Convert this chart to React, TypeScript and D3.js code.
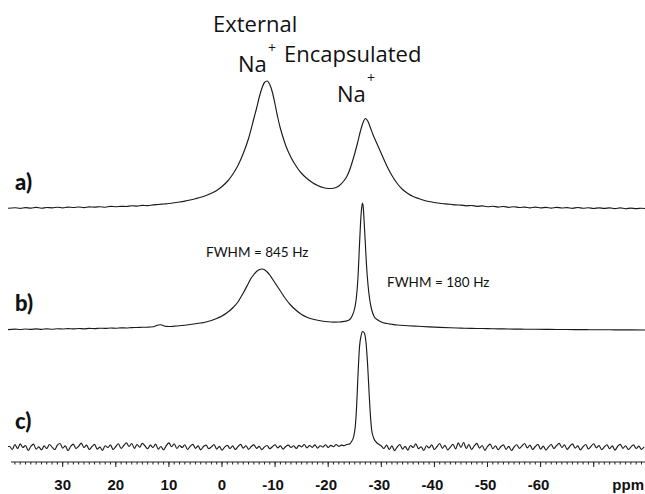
import React from "react";
import * as d3 from "d3";

type P = [number, number];

// Trace a) [ppm, intensity]
const specA: P[] = [
  [40.3,0.2],[39,0.8],[38,0.1],[37,0.9],[36,0.4],[35,1.1],[34,0.3],[33,1.0],[32,0.7],[31,1.3],[30,0.6],[29,1.4],[28,1.0],[27,1.5],[26,0.9],[25,1.7],[24,1.4],[23,1.8],[22,1.3],[21,2.1],[20,1.8],[19,2.2],[18,2.0],[17,2.8],[16,2.4],[15,3.1],[14,2.9],[13,3.6],[12,4.0],[11,4.5],[10,5.0],[9,5.7],[8,6.5],[7,7.4],[6,8.5],[5,9.8],[4,11.2],[3,13],[2,15.2],[1,18],[0,22],[-1,27],[-2,34],[-3,43],[-4,55],[-5,70],[-6,90],[-6.5,100],[-7,111],[-7.5,120],[-8,126],[-8.5,127.5],[-9,124],[-9.5,116],[-10,104],[-10.5,91],[-11,80],[-11.5,71],[-12,63],[-13,51],[-14,42],[-15,35],[-16,30],[-17,26],[-18,23],[-19,21],[-20,20],[-21,20.3],[-22,22.5],[-23,28],[-23.5,32],[-24,38],[-24.5,46],[-25,55],[-25.5,65],[-26,76],[-26.5,85],[-27,90],[-27.5,87],[-28,80],[-28.5,73],[-29,67],[-30,55],[-31,43],[-32,33],[-33,25],[-34,19],[-35,15],[-36,12],[-37,10],[-38,8.3],[-39,7],[-40,6],[-41,5.3],[-42,4.6],[-43,4.2],[-44,3.6],[-45,3.4],[-46,2.7],[-47,3.0],[-48,2.2],[-49,2.6],[-50,1.8],[-51,2.3],[-52,1.4],[-53,2.0],[-54,1.2],[-55,1.8],[-56,1.0],[-57,1.4],[-58,0.7],[-59,1.4],[-60,0.6],[-61,1.1],[-62,0.4],[-63,1.2],[-64,0.5],[-65,0.9],[-66,0.2],[-67,1.0],[-68,0.3],[-69,0.8],[-70,0.0],[-71,0.7],[-72,0.1],[-73,0.6],[-74,-0.1],[-75,0.6],[-76,-0.2],[-77,0.4],[-78,-0.1],[-79,0.3],[-79.7,0]
];

// Trace b) [ppm, intensity]
const specB: P[] = [
  [40.3,0.4],[39,0.9],[38,0.5],[37,1.0],[36,0.6],[35,1.1],[34,0.7],[33,1.2],[32,0.8],[31,1.3],[30,1.0],[29,1.4],[28,1.1],[27,1.5],[26,1.2],[25,1.6],[24,1.4],[23,1.8],[22,1.6],[21,2.0],[20,1.8],[19,2.2],[18,2.0],[17,2.4],[16,2.5],[15,2.7],[14,2.8],[13,3.2],[12.5,4],[12,5],[11.5,5.3],[11,4.2],[10.5,3.6],[10,3.5],[9,3.8],[8,4.2],[7,4.8],[6,5.5],[5,6.2],[4,7],[3,8],[2,9.5],[1,11.5],[0,14],[-1,17.5],[-2,22],[-3,28],[-4,37],[-5,47],[-5.5,52],[-6,55.5],[-6.5,58.5],[-7,60.3],[-7.5,61],[-8,60.3],[-8.5,58],[-9,55],[-9.5,51],[-10,47],[-11,39],[-12,31],[-13,24.5],[-14,19.5],[-15,15.5],[-16,12.8],[-17,11],[-18,9.8],[-19,8.8],[-20,8.2],[-21,7.9],[-22,8.0],[-23,8.6],[-23.5,9.1],[-24,10.2],[-24.5,14],[-25,22],[-25.3,32],[-25.6,52],[-25.9,86],[-26.1,108],[-26.3,122],[-26.45,127],[-26.6,123],[-26.8,105],[-27.0,86],[-27.2,66],[-27.5,45],[-27.8,31],[-28.2,20],[-28.7,13],[-29.2,10.5],[-30,8],[-31,6.5],[-32,5.7],[-33,5],[-35,4.3],[-37,3.7],[-39,3.1],[-41,2.6],[-43,2.2],[-45,1.9],[-47,1.6],[-49,1.5],[-51,1.2],[-53,1.1],[-55,0.9],[-57,0.8],[-59,0.7],[-61,0.6],[-63,0.5],[-65,0.5],[-67,0.4],[-69,0.3],[-71,0.3],[-73,0.2],[-75,0.2],[-77,0.1],[-79.7,0]
];

// Trace c) [ppm, intensity]
const specC: P[] = [
  [40.3,1],[40,1],[39.5,-2],[39,3],[38.5,-1],[38,3.6],[37.5,0],[37,2],[36.5,-3],[36,1],[35.5,3.4],[35,-1.6],[34.5,0.6],[34,-2.4],[33.5,1.6],[33,-1],[32.5,3],[32,0.4],[31.5,-2],[31,2.4],[30.5,4],[30,-0.6],[29.5,1.6],[29,-3],[28.5,1],[28,3.4],[27.5,-1],[27,1.2],[26.5,4.4],[26,0],[25.5,2.4],[25,-2],[24.5,0.8],[24,3.2],[23.5,-1.6],[23,0.4],[22.5,-2.8],[22,1.8],[21.5,0],[21,2.6],[20.5,-2],[20,1],[19.5,3.8],[19,-1],[18.5,2],[18,4.6],[17.5,1],[17,4],[16.5,-0.8],[16,3],[15.5,0.4],[15,4.2],[14.5,1.6],[14,-1.2],[13.5,2.4],[13,0],[12.5,3.4],[12,-1.6],[11.5,1],[11,-2.4],[10.5,1.8],[10,4.6],[9.5,0.8],[9,3.8],[8.5,-1],[8,2],[7.5,0],[7,2.8],[6.5,-2],[6,1.2],[5.5,3.2],[5,-0.8],[4.5,1.6],[4,-2.4],[3.5,1],[3,2.4],[2.5,-1.2],[2,0.6],[1.5,3],[1,-1.6],[0.5,1.2],[0,-2.6],[-0.5,0.4],[-1,2.2],[-1.5,-1],[-2,1.6],[-2.5,-2],[-3,0.8],[-3.5,3.2],[-4,-0.6],[-4.5,1.8],[-5,-1.8],[-5.5,1],[-6,2.6],[-6.5,-0.8],[-7,1.2],[-7.5,-2.2],[-8,0.6],[-8.5,2],[-9,-1.2],[-9.5,0.8],[-10,2.8],[-10.5,-0.4],[-11,1.6],[-11.5,-1.6],[-12,1],[-12.5,2.4],[-13,0],[-13.5,1.8],[-14,-1],[-14.5,2.2],[-15,0.6],[-15.5,3],[-16,-0.4],[-16.5,2],[-17,0.2],[-17.5,2.6],[-18,-0.6],[-18.5,1.8],[-19,0.4],[-19.5,2.8],[-20,0],[-20.5,2.2],[-21,0.8],[-21.5,3],[-22,1.2],[-22.5,2.4],[-23,1.8],[-23.5,3],[-24,3.4],
  [-24.4,6],[-24.8,11],[-25.1,21],[-25.35,41],[-25.6,71],[-25.9,101],[-26.2,112],[-26.5,116],[-26.8,114.5],[-27.1,106],[-27.4,85],[-27.7,55],[-27.95,32],[-28.2,17],[-28.6,9],[-29.1,5],[-29.6,3],[-30,1.5],
  [-30.5,-1],[-31,2.4],[-31.5,-2],[-32,1.6],[-32.5,-3.2],[-33,0.6],[-33.5,3],[-34,-1.6],[-34.5,1.2],[-35,-2.6],[-35.5,2],[-36,0],[-36.5,3.6],[-37,-1.2],[-37.5,0.8],[-38,-3],[-38.5,1.8],[-39,-0.4],[-39.5,2.6],[-40,-2],[-40.5,1],[-41,4],[-41.5,-0.8],[-42,2.2],[-42.5,-2.4],[-43,0.4],[-43.5,3.2],[-44,-1.4],[-44.5,4.6],[-45,0.2],[-45.5,5],[-46,-1],[-46.5,3],[-47,-2],[-47.5,1.6],[-48,4.2],[-48.5,-0.6],[-49,2],[-49.5,-2.8],[-50,1],[-50.5,3.4],[-51,-1.2],[-51.5,1.8],[-52,-2.2],[-52.5,0.8],[-53,2.6],[-53.5,-1.8],[-54,1.2],[-54.5,-3],[-55,0.4],[-55.5,2.8],[-56,-0.8],[-56.5,1.6],[-57,4],[-57.5,-0.4],[-58,2.4],[-58.5,-2],[-59,1],[-59.5,3.2],[-60,-1.6],[-60.5,1.4],[-61,-2.6],[-61.5,0.6],[-62,3],[-62.5,-1],[-63,1.8],[-63.5,4.2],[-64,0],[-64.5,2.6],[-65,-1.8],[-65.5,1.2],[-66,3.6],[-66.5,-0.6],[-67,1.6],[-67.5,-2.4],[-68,0.8],[-68.5,3],[-69,-1.4],[-69.5,1.2],[-70,3.8],[-70.5,-0.4],[-71,2],[-71.5,-2.2],[-72,0.6],[-72.5,2.8],[-73,-1.2],[-73.5,1.6],[-74,-2.6],[-74.5,1],[-75,3.2],[-75.5,-0.8],[-76,1.8],[-76.5,-2],[-77,0.4],[-77.5,2.6],[-78,-1],[-78.5,1.4],[-79,-1.8],[-79.5,0.8]
];

const traceLabels = ["a)", "b)", "c)"];
const majorTicks = [30, 20, 10, 0, -10, -20, -30, -40, -50, -60, -70];
const tickLabels = ["30", "20", "10", "0", "-10", "-20", "-30", "-40", "-50", "-60", ""];
const minorTicks = d3.range(39, -80, -1);
const unitLabel = "ppm";
const fwhmLabels = ["FWHM = 845 Hz", "FWHM = 180 Hz"];

const W = 645;
const H = 494;

export default function App() {
  const x = d3.scaleLinear().domain([40, -80]).range([9.6, 646.8]);
  const yI = d3.scaleLinear().domain([0, 100]).range([0, -100]);
  const baselines = [208.5, 330, 447.5];
  const series = [specA, specB, specC];
  const mk = (base: number) =>
    d3
      .line<P>()
      .x((d) => x(d[0]))
      .y((d) => base + yI(d[1]))
      .curve(d3.curveMonotoneX);

  const axisY = 462;
  const calib = "'Open Sans', Lato, sans-serif";
  const small = "Lato, 'Open Sans', sans-serif";
  const arial = "'Liberation Sans', Arial, sans-serif";

  return (
    <svg
      width={W}
      height={H}
      viewBox={`0 0 ${W} ${H}`}
      style={{ position: "absolute", left: 0, top: 0, background: "#fff", display: "block" }}
    >
      <rect x={0} y={0} width={W} height={H} fill="#fff" />
      <defs>
        <clipPath id="plotclip">
          <rect x={0} y={0} width={W} height={H} />
        </clipPath>
      </defs>
      <g clipPath="url(#plotclip)">
        {series.map((s, i) => (
          <path
            key={i}
            d={mk(baselines[i])(s) || ""}
            fill="none"
            stroke="#1a1a1a"
            strokeWidth={1.15}
            strokeLinejoin="round"
          />
        ))}
      </g>

      {/* trace labels */}
      {traceLabels.map((t, i) => (
        <text
          key={t}
          x={15}
          y={[190, 311, 429][i]}
          fontFamily={small}
          fontWeight={900}
          fontSize={22}
          fill="#111"
        >
          {t}
        </text>
      ))}

      {/* peak annotations */}
      <g fontFamily={calib} fill="#111">
        <text x={213} y={32} fontSize={22}>External</text>
        <text x={238} y={72} fontSize={22}>Na</text>
        <text x={268} y={53} fontSize={14}>+</text>
        <text x={284} y={62} fontSize={22}>Encapsulated</text>
        <text x={337} y={102} fontSize={22}>Na</text>
        <text x={367} y={83} fontSize={14}>+</text>
      </g>
      <g fontFamily={small} fill="#111">
        <text x={206} y={257} fontSize={13.5}>{fwhmLabels[0]}</text>
        <text x={387} y={287} fontSize={13.5}>{fwhmLabels[1]}</text>
      </g>

      {/* axis */}
      <g stroke="#222" strokeWidth={1}>
        <line x1={11} x2={645} y1={axisY} y2={axisY} />
        {minorTicks.map((t) => (
          <line key={"m" + t} x1={x(t)} x2={x(t)} y1={axisY} y2={axisY + 2.5} />
        ))}
        {majorTicks.map((t) => (
          <line key={"M" + t} x1={x(t)} x2={x(t)} y1={axisY} y2={axisY + 5} />
        ))}
      </g>
      <g fontFamily={arial} fontWeight={700} fontSize={15} fill="#111" textAnchor="middle">
        {majorTicks.map((t, i) => (
          <text key={"l" + t} x={x(t) - (t < 0 ? 2 : 0)} y={490}>
            {tickLabels[i]}
          </text>
        ))}
        <text x={644} y={490} textAnchor="end">{unitLabel}</text>
      </g>
    </svg>
  );
}
